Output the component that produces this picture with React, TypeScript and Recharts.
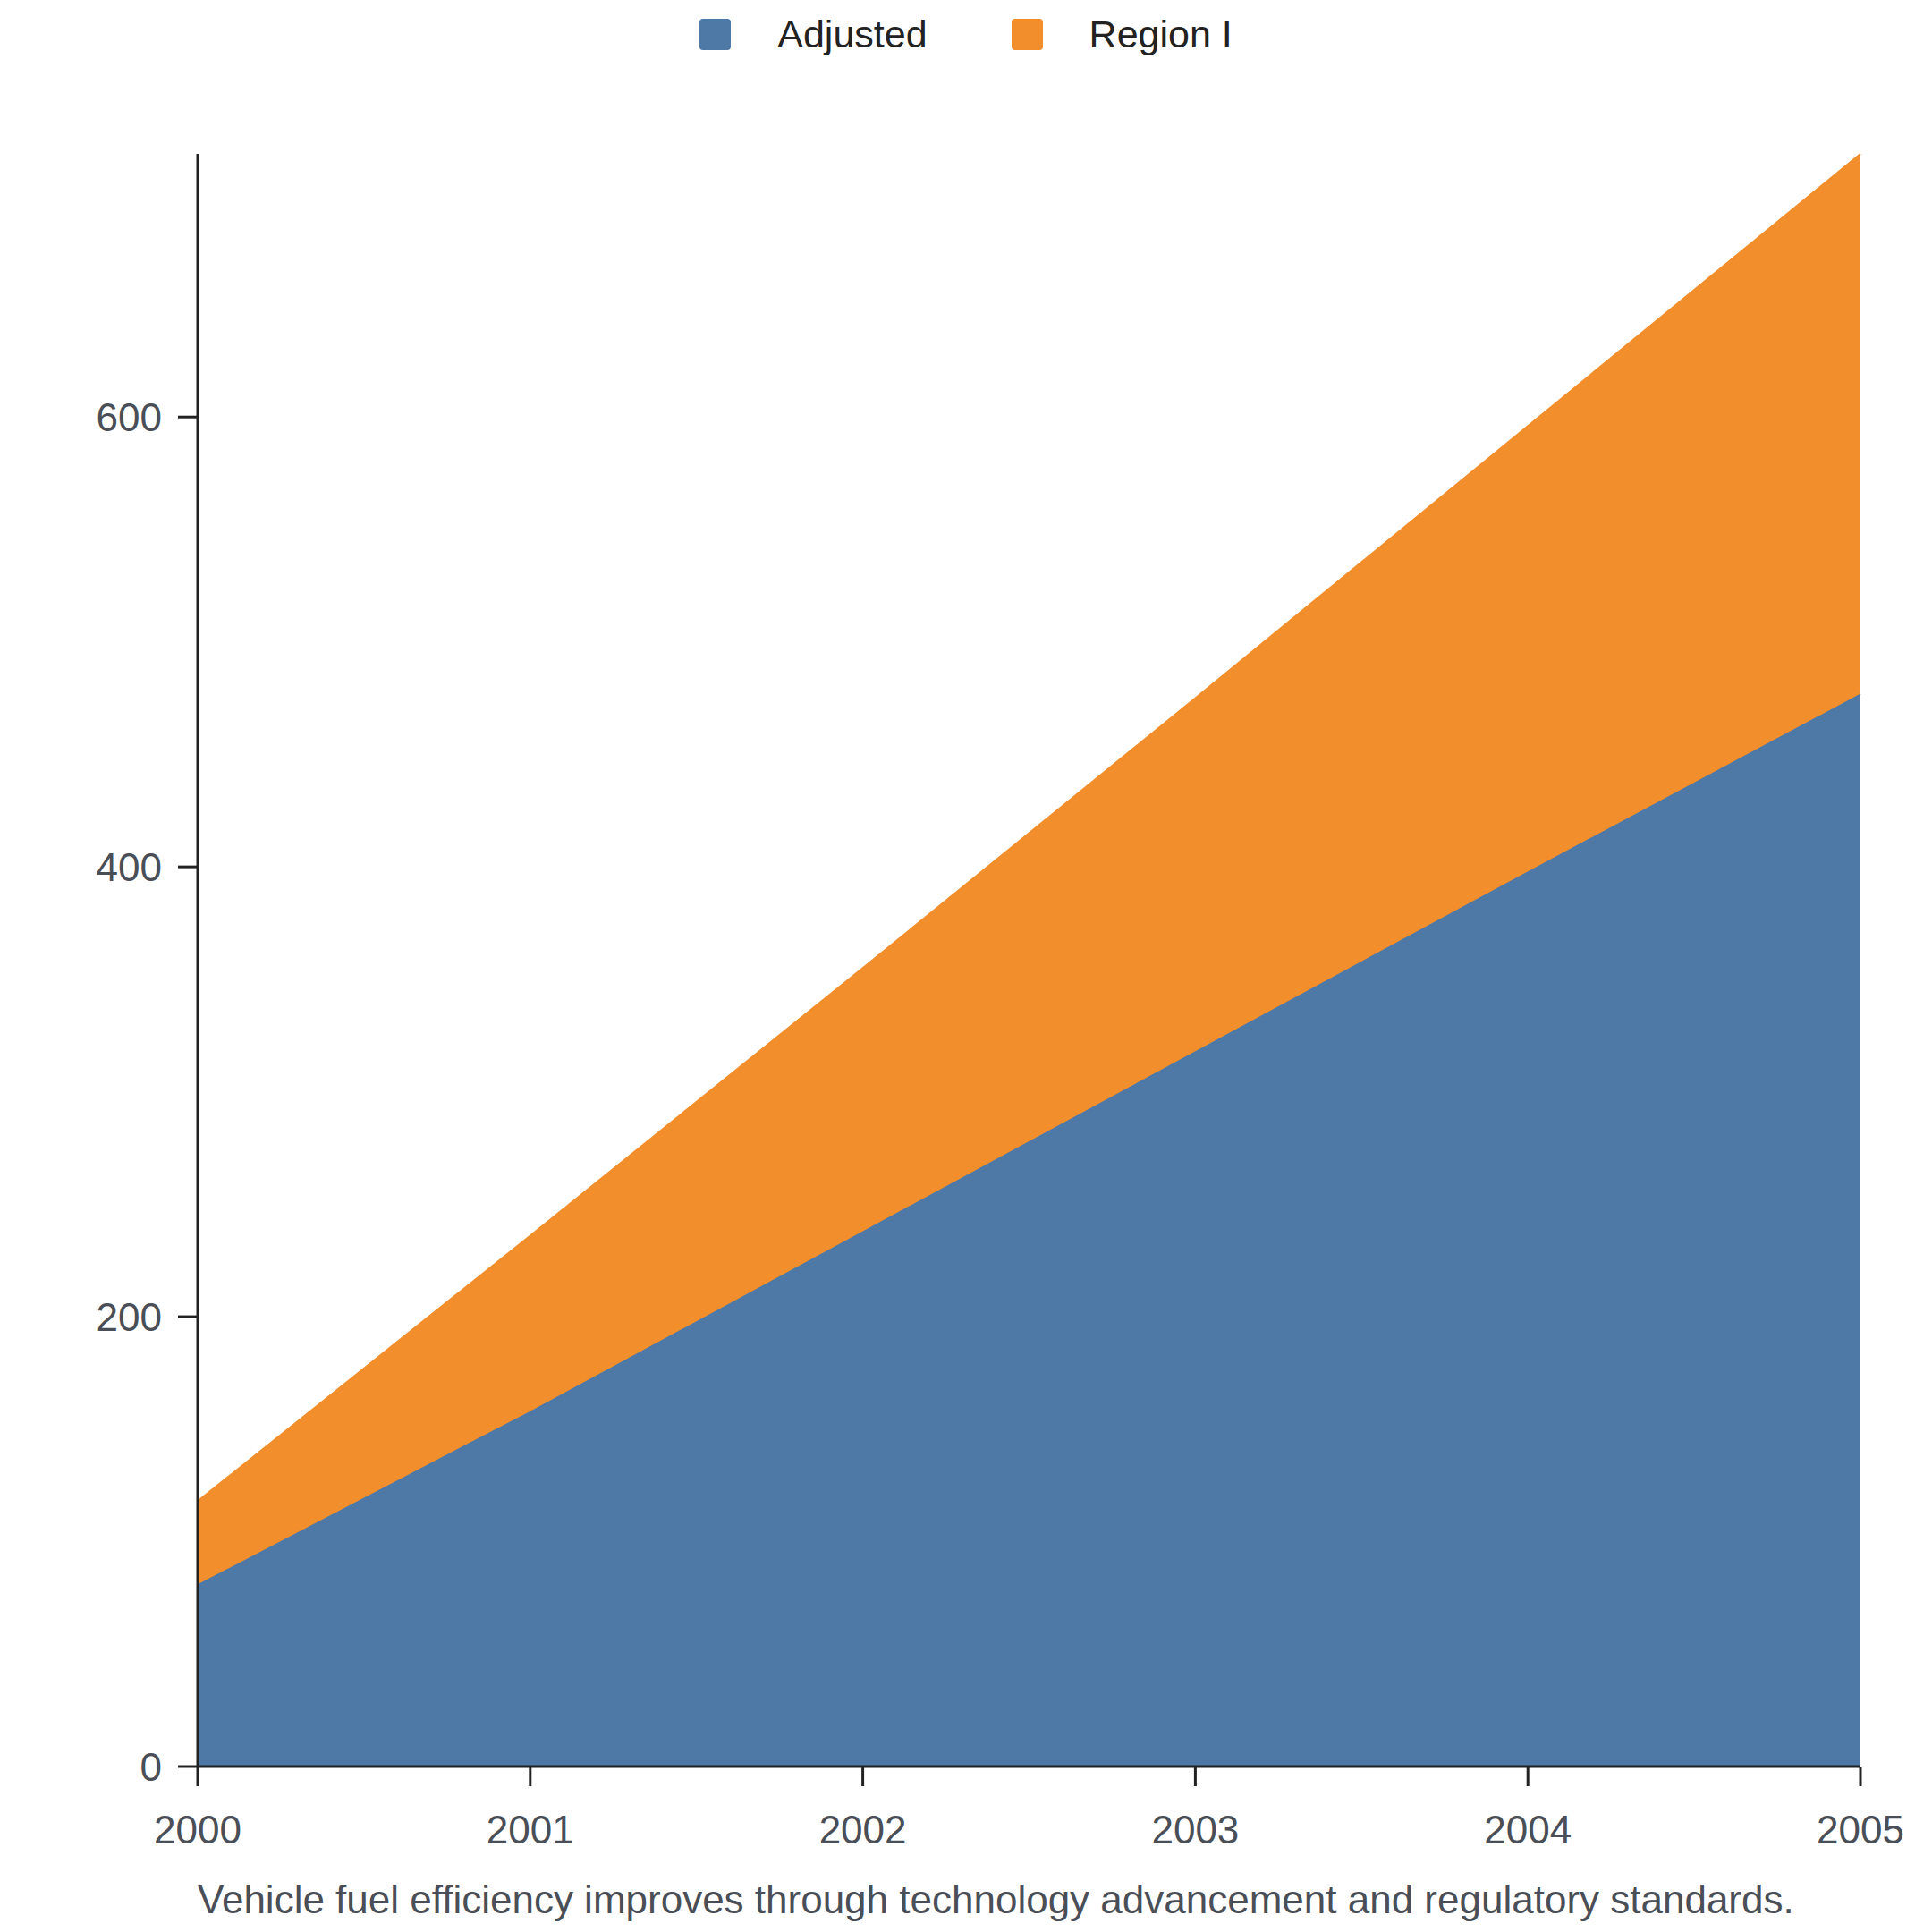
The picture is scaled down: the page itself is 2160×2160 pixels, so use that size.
import React from 'react';
import { AreaChart, Area, XAxis, YAxis, Legend, Label } from 'recharts';

const years = ['2000', '2001', '2002', '2003', '2004', '2005'];
const adjusted = [81, 158, 238, 318, 398, 477];
const regionI = [37, 78, 117, 157, 198, 240];
const yTicks = [0, 200, 400, 600];
const seriesNames = ['Adjusted', 'Region I'];
const seriesColors = ['#4e79a7', '#f28e2b'];
const subtitle = 'Vehicle fuel efficiency improves through technology advancement and regulatory standards.';

const data = years.map((y, i) => ({ year: y, adjusted: adjusted[i], regionI: regionI[i] }));

const FONT = '"Liberation Sans", Arial, Helvetica, sans-serif';
const TICK_COLOR = '#4a4f57';

const LegendContent = () => (
  <div style={{ height: 164, display: 'flex', justifyContent: 'center', alignItems: 'flex-start', fontFamily: FONT }}>
    <div style={{ display: 'flex', alignItems: 'center', marginTop: 13, marginLeft: 72 }}>
      {seriesNames.map((n, i) => (
        <div key={n} style={{ display: 'flex', alignItems: 'center', marginLeft: i === 0 ? 0 : 94 }}>
          <div style={{ width: 35, height: 35, borderRadius: 4, background: seriesColors[i] }} />
          <span style={{ marginLeft: 52, fontSize: 43, color: '#222', lineHeight: '35px' }}>{n}</span>
        </div>
      ))}
    </div>
  </div>
);

const SubtitleLabel = (props: any) => {
  const vb = props.viewBox || {};
  return (
    <text x={vb.x} y={vb.y + 164} fontSize={44} fill={TICK_COLOR} fontFamily={FONT}>
      {subtitle}
    </text>
  );
};

export default function App() {
  return (
    <AreaChart width={2144} height={2150} data={data} margin={{ top: 0, right: 72, bottom: 0, left: 0 }}>
      <Legend verticalAlign="top" align="center" content={<LegendContent />} wrapperStyle={{ top: 0 }} />
      <XAxis
        dataKey="year"
        height={183}
        axisLine={{ stroke: '#222', strokeWidth: 3 }}
        tickLine={{ stroke: '#222', strokeWidth: 3 }}
        tickSize={22}
        tickMargin={33}
        tick={{ fontSize: 44, fill: TICK_COLOR, fontFamily: FONT }}
        interval={0}
      >
        <Label content={<SubtitleLabel />} />
      </XAxis>
      <YAxis
        width={213}
        domain={[0, 'dataMax']}
        ticks={yTicks}
        axisLine={{ stroke: '#222', strokeWidth: 3 }}
        tickLine={{ stroke: '#222', strokeWidth: 3 }}
        tickSize={22}
        tickMargin={18}
        tick={{ fontSize: 44, fill: TICK_COLOR, fontFamily: FONT }}
      />
      <Area
        type="linear"
        dataKey="adjusted"
        name={seriesNames[0]}
        stackId="1"
        stroke={seriesColors[0]}
        strokeWidth={2}
        fill={seriesColors[0]}
        fillOpacity={1}
        isAnimationActive={false}
      />
      <Area
        type="linear"
        dataKey="regionI"
        name={seriesNames[1]}
        stackId="1"
        stroke={seriesColors[1]}
        strokeWidth={2}
        fill={seriesColors[1]}
        fillOpacity={1}
        isAnimationActive={false}
      />
    </AreaChart>
  );
}
